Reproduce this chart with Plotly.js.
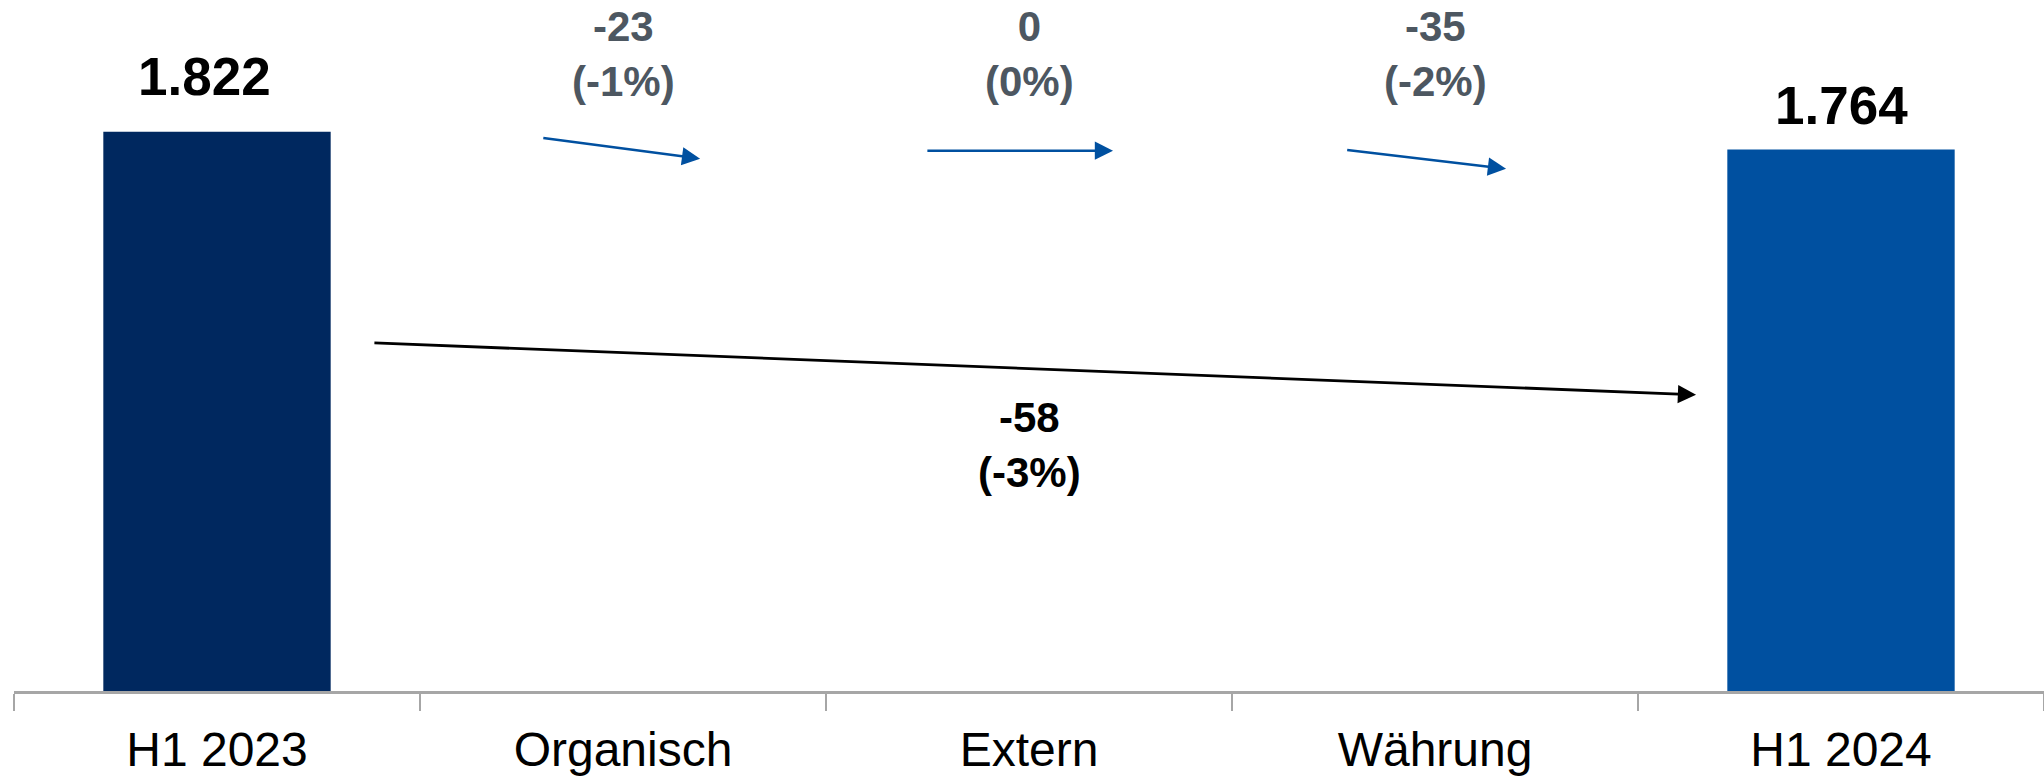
<!DOCTYPE html>
<html>
<head>
<meta charset="utf-8">
<script src="https://cdn.plot.ly/plotly-3.0.1.min.js"></script>
<style>html,body{margin:0;padding:0;background:#fff;}#chart{width:2044px;height:776px;}</style>
</head>
<body>
<div id="chart"></div>
<script>
// Data
var categories = ["H1 2023", "Organisch", "Extern", "Währung", "H1 2024"];
var totals = [1822, null, null, null, 1764];
var deltaCategories = ["Organisch", "Extern", "Währung"];
var deltas = [-23, 0, -35];
var deltaPct = ["-1%", "0%", "-2%"];
var totalDelta = -58;
var totalPct = "-3%";

var barColors = ["#00285F", "#0050A0"];
var labelShift = [[-13, 24], null, null, null, [0, 12]];
var fontFam = "'Liberation Sans', Arial, sans-serif";

function fmt(v) {
  var s = Math.abs(v).toString();
  s = s.replace(/\B(?=(\d{3})+(?!\d))/g, ".");
  return (v < 0 ? "-" : "") + s;
}

var trace = {
  type: "bar",
  x: categories,
  y: totals,
  marker: { color: [barColors[0], null, null, null, barColors[1]], line: { width: 0 } },
  hoverinfo: "skip"
};

var annotations = [];
// total value labels
categories.forEach(function (c, i) {
  if (totals[i] !== null) {
    annotations.push({
      x: c, y: totals[i], xref: "x", yref: "y",
      text: "<b>" + fmt(totals[i]) + "</b>",
      showarrow: false, yanchor: "bottom",
      xshift: labelShift[i][0], yshift: labelShift[i][1],
      font: { family: fontFam, size: 53, color: "#000000" }
    });
  }
});
// delta labels
deltaCategories.forEach(function (c, i) {
  annotations.push({
    x: c, y: 1.038, xref: "x", yref: "paper",
    text: "<b>" + fmt(deltas[i]) + "<br>(" + deltaPct[i] + ")</b>",
    showarrow: false, yanchor: "middle",
    font: { family: fontFam, size: 42, color: "#4D5761" }
  });
});
// small arrows (decorative): [head x, head y, tail x, tail y] in axis units
var smallArrows = [
  [1.19, 1734, 0.80, 1802],
  [2.207, 1760, 1.746, 1760],
  [3.175, 1701, 2.78, 1763]
];
smallArrows.forEach(function (a) {
  annotations.push({
    x: a[0], y: a[1], ax: a[2], ay: a[3],
    xref: "x", yref: "y", axref: "x", ayref: "y",
    text: "", showarrow: true, arrowhead: 2, arrowsize: 1.4, arrowwidth: 2.6,
    arrowcolor: "#0050A0", standoff: 0
  });
});
// total change arrow
annotations.push({
  x: 3.643, y: 965, ax: 0.384, ay: 1134,
  xref: "x", yref: "y", axref: "x", ayref: "y",
  text: "", showarrow: true, arrowhead: 2, arrowsize: 1.3, arrowwidth: 2.8,
  arrowcolor: "#000000", standoff: 0
});
annotations.push({
  x: "Extern", y: 0.40, xref: "x", yref: "paper",
  text: "<b>" + fmt(totalDelta) + "<br>(" + totalPct + ")</b>",
  showarrow: false, yanchor: "middle",
  font: { family: fontFam, size: 42, color: "#000000" }
});

var layout = {
  width: 2044, height: 776,
  margin: { l: 14, r: 0, t: 77, b: 85, pad: 0 },
  paper_bgcolor: "#ffffff", plot_bgcolor: "#ffffff",
  showlegend: false,
  bargap: 0.44,
  separators: ",.",
  xaxis: {
    type: "category",
    range: [-0.5, 4.5],
    tickson: "boundaries",
    ticks: "outside", ticklen: 17, tickwidth: 1.5, tickcolor: "#A6A6A6",
    showline: true, linecolor: "#A6A6A6", linewidth: 2.5,
    showgrid: false, zeroline: false,
    tickfont: { family: fontFam, size: 48, color: "#000000" },
    ticklabelstandoff: 15,
    fixedrange: true
  },
  yaxis: {
    range: [0, 2000], visible: false, showgrid: false, zeroline: false, fixedrange: true
  },
  annotations: annotations
};

Plotly.newPlot("chart", [trace], layout, { staticPlot: true, displayModeBar: false });
</script>
</body>
</html>
